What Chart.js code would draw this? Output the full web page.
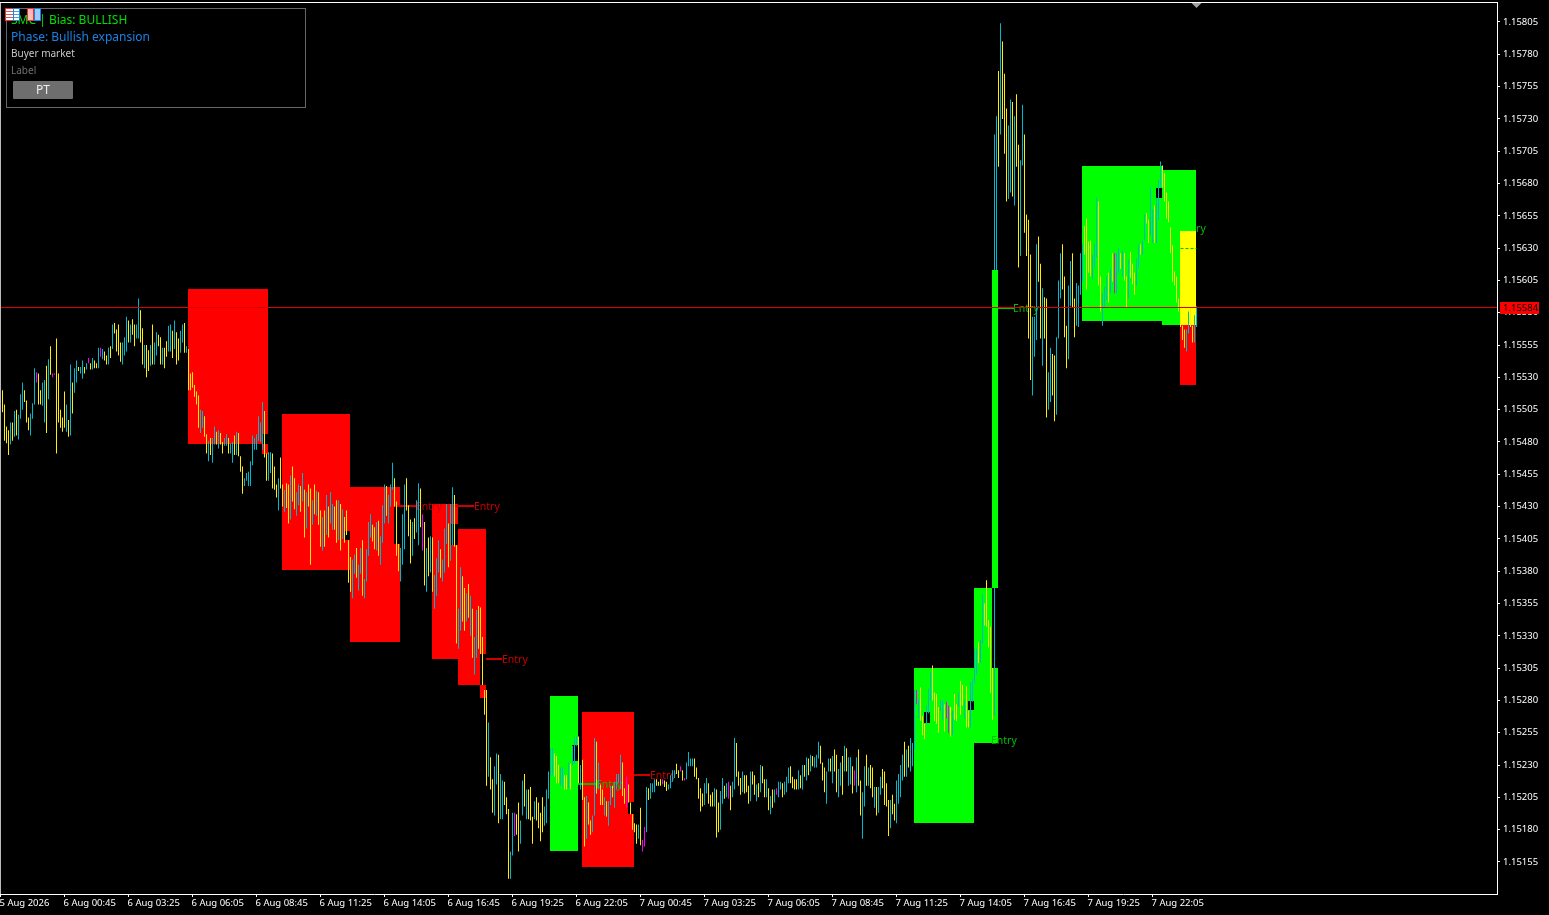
<!DOCTYPE html>
<html><head><meta charset="utf-8">
<style>
html,body{margin:0;padding:0;background:#000;overflow:hidden}
#wrap{position:absolute;left:0;top:0;width:1549px;height:915px}
#panel{position:absolute;left:6px;top:8px;width:298px;height:98px;border:1px solid #666;font-family:"Noto Sans",sans-serif}
#panel div.t{position:absolute;left:4px;white-space:nowrap;line-height:14px}
#btn{position:absolute;left:6px;top:72px;width:60px;height:18px;background:#6e6e6e;color:#eee;font-size:12px;line-height:18px;text-align:center;border-radius:1px}
.ic{position:absolute;top:8px;height:11px}
</style>
</head><body>
<div id="wrap"><canvas id="c" width="1549" height="915"></canvas>
<div id="panel">
<div class="t" style="top:4px;color:#00e000;font-size:12px">SMC | Bias: BULLISH</div>
<div class="t" style="top:21px;color:#1a82e6;font-size:12px">Phase: Bullish expansion</div>
<div class="t" style="top:37px;color:#c8c8c8;font-size:10px">Buyer market</div>
<div class="t" style="top:54px;color:#707070;font-size:10px">Label</div>
<div id="btn">PT</div>
</div>
<div class="ic" style="left:5px;width:7px;border:1px solid #f03030;background:repeating-linear-gradient(#fff 0 2px,#f05050 2px 3px)"></div>
<div class="ic" style="left:13px;width:5px;border:1px solid #2080e0;background:repeating-linear-gradient(#fff 0 2px,#40a0f0 2px 3px)"></div>
<div class="ic" style="left:27px;width:5px;border:1px solid #f03030;background:#fbb;"></div>
<div class="ic" style="left:34px;width:5px;border:1px solid #2080e0;background:#9cf;"></div>
</div>
<script src="https://cdn.jsdelivr.net/npm/chart.js@4"></script>
<script>
// values in points: price = 1.15 + points / 100000
const highs=[
520,509,492,489,495,495,504,505,501,517,526,520,512,499,502,510,537,534,533,520,
526,528,539,544,554,533,533,560,533,505,499,519,509,497,540,526,537,543,538,538,
543,538,541,545,541,545,543,541,553,553,552,550,547,553,554,571,572,567,571,557,
557,561,577,574,571,575,571,571,591,582,568,555,555,551,555,571,557,565,563,561,
553,553,558,570,571,566,574,565,560,566,571,572,554,552,533,534,524,519,516,505,
504,500,486,481,483,483,492,488,489,487,480,483,486,483,479,480,485,488,487,469,
461,452,456,457,465,485,483,486,500,495,511,504,471,472,472,471,461,447,452,468,
447,443,448,447,454,461,452,441,447,446,456,443,441,447,444,435,447,442,441,427,
422,427,439,430,441,432,430,435,435,432,428,422,427,404,391,389,393,398,385,398,
404,374,397,418,424,416,414,418,419,407,431,447,446,439,447,464,452,434,401,398,
424,447,452,431,420,418,421,435,448,444,424,418,398,406,407,406,377,390,404,397,
389,413,432,417,432,445,439,400,351,383,376,367,363,370,361,351,329,350,353,352,
329,288,288,263,236,219,229,239,238,223,218,217,205,196,163,193,193,192,201,187,
218,223,211,211,213,190,202,205,201,193,205,198,211,225,243,243,239,237,230,228,
228,222,222,232,231,245,251,252,252,230,234,205,206,201,187,191,251,248,232,215,
211,205,202,202,214,214,217,223,223,238,232,212,221,215,201,192,185,184,184,197,
172,182,213,212,216,216,219,219,217,219,219,218,217,215,222,226,226,231,226,229,
226,220,232,240,235,235,235,228,220,212,208,216,220,216,207,209,212,211,201,210,
220,214,216,217,214,217,251,247,225,220,225,222,222,214,225,225,222,215,216,230,
229,219,219,212,206,211,211,212,217,217,216,217,221,228,229,221,219,219,226,222,
230,230,236,235,238,237,236,238,248,245,232,228,225,235,235,237,242,238,227,232,
237,245,243,236,236,229,226,236,242,218,209,229,238,228,230,228,213,213,213,221,
227,225,216,203,203,207,200,218,223,230,238,248,242,245,251,247,288,288,281,290,
268,262,276,289,302,307,286,285,275,280,280,277,279,276,275,272,285,277,286,295,
292,280,291,272,294,297,320,320,325,327,362,355,373,342,337,305,718,732,767,804,
790,765,738,725,745,743,732,749,710,698,741,718,656,652,625,577,577,633,639,618,
599,592,591,534,553,548,547,561,605,626,633,608,570,601,620,626,591,603,601,626,
633,647,653,635,636,625,633,669,666,608,595,600,608,611,614,626,626,626,630,626,
628,626,608,621,627,618,611,622,633,633,636,656,657,652,677,660,663,669,683,697,
694,688,673,666,646,632,612,608,591,584,570,567,567,581,584,570,578,585];
const lows=[
503,481,479,470,478,481,484,485,482,498,505,511,495,489,485,498,509,526,509,509,
508,495,487,513,532,530,532,471,495,491,488,491,488,484,485,502,518,526,535,533,
529,533,536,541,536,536,537,537,537,546,544,543,540,540,545,552,564,550,547,542,
540,547,550,557,557,563,554,560,560,557,540,537,530,535,539,540,540,547,554,540,
540,537,546,550,550,545,552,540,543,549,557,549,549,520,520,522,515,509,491,487,
491,484,471,465,470,464,478,478,475,478,471,477,477,471,471,464,470,470,469,457,
440,446,450,446,446,462,474,474,481,480,474,468,450,450,456,444,443,437,427,444,
430,426,429,417,420,434,428,423,431,426,434,406,413,430,385,416,424,423,416,399,
396,399,408,406,417,412,412,402,404,396,405,402,408,371,364,359,378,375,365,378,
361,359,372,392,406,403,397,396,392,385,402,417,423,417,430,443,430,392,380,372,
385,397,427,407,386,392,405,410,400,414,396,369,364,376,379,364,351,361,379,375,
372,379,401,383,388,400,399,324,320,334,341,334,341,344,330,313,300,313,320,316,
292,269,214,221,211,193,191,215,185,188,188,199,192,142,142,160,175,176,163,169,
191,198,188,188,187,169,188,187,181,171,178,183,185,204,221,222,221,216,216,214,
213,211,211,212,211,230,231,245,216,211,203,167,173,184,176,178,191,208,211,199,
199,191,190,183,199,205,197,211,216,211,206,200,197,201,192,180,178,169,173,168,
163,167,178,203,204,209,209,214,214,214,215,213,210,211,212,217,220,223,220,225,
218,218,219,229,229,229,221,219,204,194,198,199,208,200,198,198,198,174,178,180,
200,204,205,204,195,205,211,221,214,207,209,208,209,200,202,215,207,202,205,209,
216,205,205,195,192,197,201,207,205,211,205,207,209,216,216,212,211,211,211,212,
211,221,218,222,225,229,228,228,235,231,218,209,200,225,225,216,225,209,205,214,
207,225,225,214,215,208,214,209,214,191,173,198,214,214,212,205,197,191,193,207,
212,199,198,175,181,192,187,185,200,205,218,221,221,228,225,229,242,277,266,264,
253,250,262,270,280,280,264,262,255,272,265,256,266,255,252,253,265,264,275,269,
276,266,259,259,259,279,293,300,309,309,324,338,337,321,286,265,268,613,693,718,
730,703,666,668,673,670,663,693,615,624,694,642,624,560,528,516,546,559,604,560,
539,560,499,505,511,516,496,501,560,591,598,561,537,544,585,584,561,570,569,594,
604,625,598,611,608,606,615,623,601,581,570,585,590,588,595,604,595,595,611,614,
608,605,584,591,607,602,594,601,615,625,625,636,649,634,640,634,634,634,652,677,
677,666,653,650,626,604,601,588,581,569,559,553,550,564,569,557,557,569];
// per-bar colour code, one string per 20 bars
const barKinds=[
"yyyycycycccyyycccmyy","ccycymmyyyyycycyccyc","cycmycyycmcyycycyyyy","cccycyyccyycyycyccyy",
"cyyccycyyccycyyyyyyc","cyycyccycyyccyccycyy","yccccccccccyyccyyycy","ycyycyyccycycyycycyy",
"cycyccyycycyyyyccycc","yccccyycycccycccyyyc","ccyyycyccymycycycccy","cccyccyyccyycycyccyy",
"yyycyyccyccyyyccmyyc","cycyyycyyyycccccyyyc","cyycycccycyycyyccycy","ycyccyccccyymyyyyycy",
"mmcycccyyymyyccccyym","ymccccyyyyyccyyycyyc","cycmyccyyycyyycyycyc","yycycycmccycccyyyycy",
"cycycycccyyyccycyycc","ycyccymcyyccycyycycc","yyyycyyccccycycccmcy","yycccyyyyccymmycyycy",
"ycyyccccyccyyyyyccyc","yyyccycyyccyyyycccyy","cyyccyycccyyyccyyccc","cyyyycccyyccc"+"ycymccy",
"cyycyyyccyccyyccyccc","yyyyyyyyyyyyccyycc"].join("");
const kindColours={y:"#ffee00",c:"#00b8cc",m:"#f000f0"};

// zones: [first bar slot, last bar slot, top points, bottom points, kind]
const zoneRows=[
[94,131,598.4,478.5,"r"],[131,134,598.4,486.2,"r"],[131,134,478.5,470.7,"r"],
[141,175,501.7,381,"r"],[175,200,445.2,325.2,"r"],
[216,229,432,312.1,"r"],[229,240,412.7,292,"r"],[240,243,412.7,316,"r"],[240,243,292,281.9,"r"],
[275,289,283.5,163.5,"g"],[291,317,271,151,"r"],
[457,487,305,185.2,"g"],[487,499,305,247,"g"],[487,496,367,305,"g"],
[541,581,693.6,573.6,"g"],[581,598,690.5,570.5,"g"],
[590,598,643.3,570.5,"y"],[590,598,570.5,524.1,"r"],
[172,175,411.1,404.2,"k"],[197,200,429.7,401.1,"k"],[225,229,416.6,400.3,"k"],
[314,317,201.4,192.2,"k"],[286,289,245.5,233.2,"k"],[462,465,271,262.6,"k"],
[484,487,279.6,272.6,"k"],[578,581,676.5,668.8,"k"]];
// breakout candle band, painted over the bars
const bandRows=[[496,499,613.1,367,"g"]];
const zoneColours={r:"#ff0000",g:"#00ff00",y:"#ffff00",k:"#000000"};

// entry marks: [line start slot, line end slot, text slot, points, kind]
const entryRows=[
[197,208,208,430.5,"r"],[226,237,237,430.5,"r"],[243,251,251,312,"r"],[317,325,325,222,"r"],
[289,298,298,215,"g"],[499,507,506.5,584,"g"],[0,0,495.5,249,"g"]];
const hiddenEntryRows=[[590,590,590,645.6,"g"]];
const entryColours={r:"#cc0000",g:"#00c000"};
const entryLabel="Entry";
const stopDash={from:590,to:598,points:630};

const lastPricePoints=584;
const lastPriceLabel="1.15584";
const latestBarSlot=598;

const priceTicks=[1.15155,1.15180,1.15205,1.15230,1.15255,1.15280,1.15305,1.15330,1.15355,1.15380,1.15405,1.15430,1.15455,1.15480,1.15505,1.15530,1.15555,1.15580,1.15605,1.15630,1.15655,1.15680,1.15705,1.15730,1.15755,1.15780,1.15805];
const timeLabels=["5 Aug 2026","6 Aug 00:45","6 Aug 03:25","6 Aug 06:05","6 Aug 08:45","6 Aug 11:25","6 Aug 14:05","6 Aug 16:45","6 Aug 19:25","6 Aug 22:05","7 Aug 00:45","7 Aug 03:25","7 Aug 06:05","7 Aug 08:45","7 Aug 11:25","7 Aug 14:05","7 Aug 16:45","7 Aug 19:25","7 Aug 22:05"];
const barsPerLabel=32;

const toPrice=p=>1.15+p/100000;
const barData=highs.map((h,i)=>({x:i+1,y:[toPrice(lows[i]),toPrice(h)]}));
const barColours=highs.map((h,i)=>kindColours[barKinds[i]]||kindColours.y);
const FONT="Noto Sans";

function paintRows(chart,rows){
  const {ctx,scales:{x,y}}=chart;
  rows.forEach(([a,b,t,u,k])=>{
    const x0=Math.floor(x.getPixelForValue(a)),x1=Math.floor(x.getPixelForValue(b));
    const y0=Math.round(y.getPixelForValue(toPrice(t))),y1=Math.round(y.getPixelForValue(toPrice(u)));
    ctx.fillStyle=zoneColours[k];ctx.fillRect(x0,y0,x1-x0,y1-y0);
  });
}
function paintEntries(chart,rows){
  const {ctx,scales:{x,y}}=chart;
  ctx.font="10.5px '"+FONT+"'";ctx.textBaseline="middle";ctx.textAlign="left";
  rows.forEach(([a,b,t,p,k])=>{
    const py=Math.round(y.getPixelForValue(toPrice(p)));
    ctx.fillStyle=entryColours[k];
    if(b>a)ctx.fillRect(Math.floor(x.getPixelForValue(a)),py-1,Math.floor(x.getPixelForValue(b))-Math.floor(x.getPixelForValue(a)),2);
    ctx.fillText(entryLabel,Math.floor(x.getPixelForValue(t)),py+1);
  });
}
const painter={id:"painter",
  beforeDatasetsDraw(chart){
    const {ctx,chartArea:a,scales:{x,y}}=chart;
    ctx.save();ctx.beginPath();ctx.rect(a.left,a.top,a.width,a.height);ctx.clip();
    paintEntries(chart,hiddenEntryRows);
    paintRows(chart,zoneRows);
    const dy=Math.round(y.getPixelForValue(toPrice(stopDash.points)))+.5;
    ctx.strokeStyle="#00c000";ctx.lineWidth=1;ctx.setLineDash([3,2]);ctx.beginPath();
    ctx.moveTo(x.getPixelForValue(stopDash.from),dy);ctx.lineTo(x.getPixelForValue(stopDash.to),dy);ctx.stroke();ctx.setLineDash([]);
    paintEntries(chart,entryRows);
    ctx.restore();
  },
  afterDatasetsDraw(chart){
    const {ctx,chartArea:a,scales:{x,y}}=chart;
    ctx.save();
    paintRows(chart,bandRows);
    const py=Math.floor(y.getPixelForValue(toPrice(lastPricePoints)));
    ctx.fillStyle="#dd0000";ctx.fillRect(a.left,py,a.width,1);
    // frame
    ctx.fillStyle="#ffffff";
    ctx.fillRect(0,a.top-1,a.right+1,1);
    ctx.fillStyle="#bbbbbb";ctx.fillRect(0,a.top,1,a.height);
    // latest-bar marker
    const tx=x.getPixelForValue(latestBarSlot);
    ctx.fillStyle="#a0a0a0";ctx.beginPath();ctx.moveTo(tx-5,a.top);ctx.lineTo(tx+5,a.top);ctx.lineTo(tx,a.top+5);ctx.fill();
    // last-price tag
    ctx.fillStyle="#ff0000";ctx.fillRect(a.right+3,py-5,39,12);
    ctx.fillStyle="#000";ctx.font="9.5px '"+FONT+"'";ctx.textBaseline="middle";ctx.textAlign="left";
    ctx.fillText(lastPriceLabel,a.right+6,py+1.5);
    ctx.restore();
  }};
Chart.defaults.devicePixelRatio=1;
new Chart(document.getElementById("c"),{
  type:"bar",
  data:{datasets:[{data:barData,backgroundColor:barColours,borderWidth:0,barThickness:1,inflateAmount:0}]},
  plugins:[painter],
  options:{
    responsive:false,animation:false,devicePixelRatio:1,
    layout:{padding:{top:3,left:0,right:0,bottom:0}},
    plugins:{legend:{display:false},tooltip:{enabled:false}},
    scales:{
      x:{type:"linear",min:-0.25,max:748.25,offset:false,
        afterBuildTicks(s){s.ticks=timeLabels.map((_,i)=>({value:i*barsPerLabel}));},
        afterFit(s){s.height=21;s.paddingLeft=0;s.paddingRight=0;},
        border:{color:"#ffffff",width:1},
        grid:{drawOnChartArea:false,color:"#ffffff",tickLength:3,offset:false},
        ticks:{color:"#ffffff",font:{family:FONT,size:9.5},maxRotation:0,minRotation:0,autoSkip:false,align:"start",padding:1,labelOffset:-1,
          callback(v){return timeLabels[Math.round(v/barsPerLabel)];}}
      },
      y:{type:"linear",position:"right",min:1.151302,max:1.158197,
        afterBuildTicks(s){s.ticks=priceTicks.map(v=>({value:v}));},
        afterFit(s){s.width=52;s.paddingTop=0;s.paddingBottom=0;},
        border:{color:"#ffffff",width:1},
        grid:{drawOnChartArea:false,color:"#ffffff",tickLength:3},
        ticks:{color:"#ffffff",font:{family:FONT,size:9.5},padding:3,autoSkip:false,
          callback(v){return v.toFixed(5);}}
      }
    }
  }
});
</script>
</body></html>
